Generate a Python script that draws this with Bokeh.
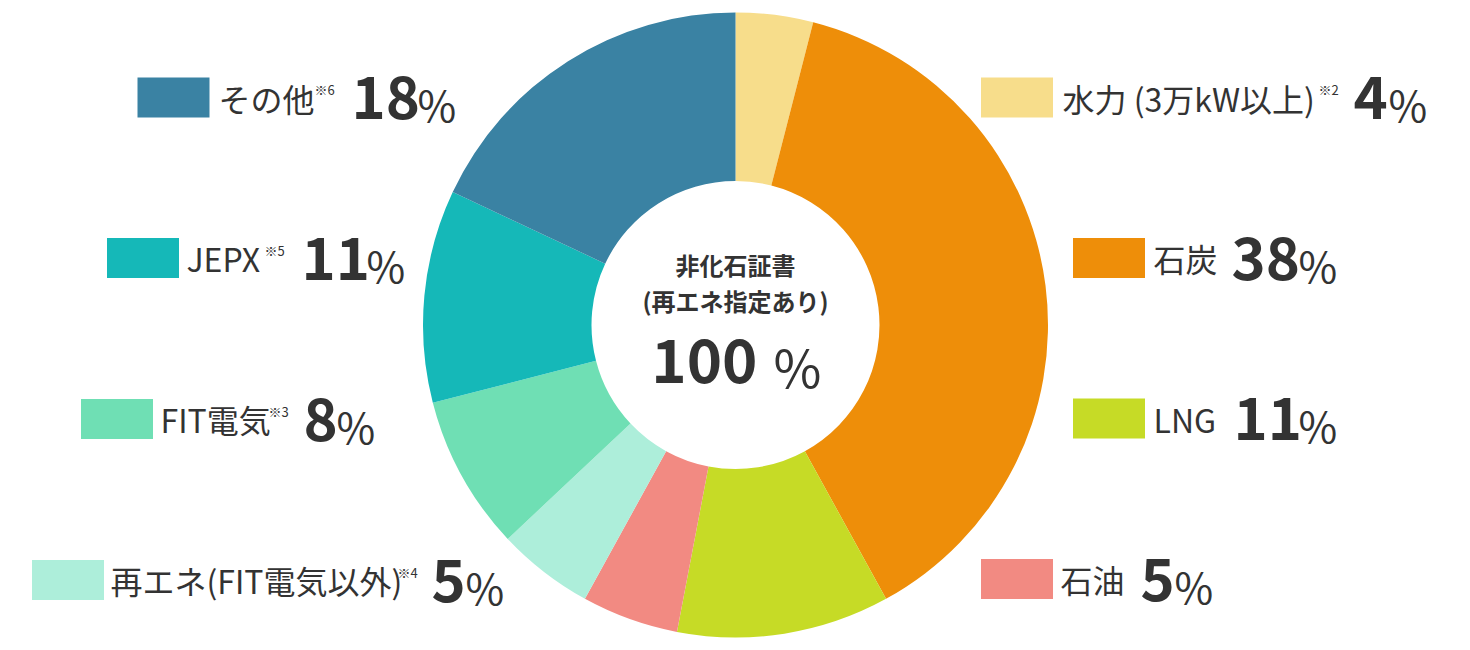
import math
from bokeh.plotting import figure
from bokeh.models import Range1d, ColumnDataSource
from bokeh.core.properties import value
from bokeh.embed import file_html
from bokeh.resources import INLINE

# ---------------- data ----------------
labels = ["水力 (3万kW以上)", "石炭", "LNG", "石油", "再エネ(FIT電気以外)", "FIT電気", "JEPX", "その他"]
notes = ["※2", "", "", "", "※4", "※3", "※5", "※6"]
values = [4, 38, 11, 5, 5, 8, 11, 18]
colors = ["#f7dd8b", "#ee8e09", "#c6db26", "#f28a82", "#adeeda", "#6fdfb4", "#15b8b8", "#3a82a3"]
center_title = ["非化石証書", "(再エネ指定あり)"]
center_total = 100

# ---------------- layout (page pixels) ----------------
W, H = 1454, 640
FONT = "Noto Sans CJK JP"
TXT = "#333333"
# square centre x, row centre y, label x, note x, number x, percent x
legend_layout = [
    (1016.5, 97, 1062, 1318, 1353, 1388),
    (1108.5, 257.5, 1153, None, 1231, 1298),
    (1108.5, 418, 1153, None, 1233, 1298),
    (1016.5, 578.5, 1060, None, 1140, 1174),
    (67.5, 579.5, 110, 397, 431, 465),
    (116.5, 418.5, 160, 268, 303, 336),
    (142.5, 257.5, 186, 264, 301, 366),
    (173, 97, 218, 314, 351, 417),
]
CX, CY, R_OUT, R_IN = 735, 324.5, 312.5, 144


def Y(py):
    return 650 - py


p = figure(width=W, height=H, output_backend="svg", toolbar_location=None,
           x_range=Range1d(0, W), y_range=Range1d(650 - H, 650),
           min_border=0, outline_line_color=None, background_fill_color="white",
           border_fill_color="white")
p.xaxis.visible = False
p.yaxis.visible = False
p.grid.visible = False

# donut
total = sum(values)
starts, ends = [], []
cum = 0
for v in values:
    starts.append(math.pi / 2 - 2 * math.pi * cum / total)
    cum += v
    ends.append(math.pi / 2 - 2 * math.pi * cum / total)
src = ColumnDataSource(dict(start=starts, end=ends, color=colors))
p.annular_wedge(x=CX, y=Y(CY), inner_radius=R_IN, outer_radius=R_OUT,
                start_angle="start", end_angle="end", direction="clock",
                fill_color="color", line_color=None, source=src)

# centre text
p.text(x=[CX, CX], y=[Y(264), Y(300)], text=center_title, text_font=value(FONT),
       text_font_style="bold", text_font_size="24px", text_color=TXT,
       text_align="center", text_baseline="middle")
p.text(x=[757], y=[Y(360)], text=[str(center_total)], text_font=value(FONT),
       text_font_style="bold", text_font_size="60px", text_color=TXT,
       text_align="right", text_baseline="middle")
p.text(x=[773], y=[Y(365)], text=["%"], text_font=value(FONT),
       text_font_style="normal", text_font_size="52px", text_color=TXT,
       text_align="left", text_baseline="middle")

# legend
for i, (sx, cy, lx, nx, vx, px) in enumerate(legend_layout):
    p.rect(x=[sx], y=[Y(cy)], width=72, height=40, fill_color=colors[i], line_color=None)
    p.text(x=[lx], y=[Y(cy)], text=[labels[i]], text_font=value(FONT),
           text_font_size="32px", text_color=TXT, text_align="left", text_baseline="middle")
    if notes[i] and nx is not None:
        p.text(x=[nx], y=[Y(cy - 8)], text=[notes[i]], text_font=value(FONT),
               text_font_size="13px", text_color=TXT, text_align="left", text_baseline="middle")
    p.text(x=[vx], y=[Y(cy)], text=[str(values[i])], text_font=value(FONT),
           text_font_style="bold", text_font_size="58px", text_color=TXT,
           text_align="left", text_baseline="middle")
    p.text(x=[px], y=[Y(cy + 6)], text=["%"], text_font=value(FONT),
           text_font_size="42px", text_color=TXT, text_align="left", text_baseline="middle")

open("out.html", "w").write(file_html(p, INLINE))
